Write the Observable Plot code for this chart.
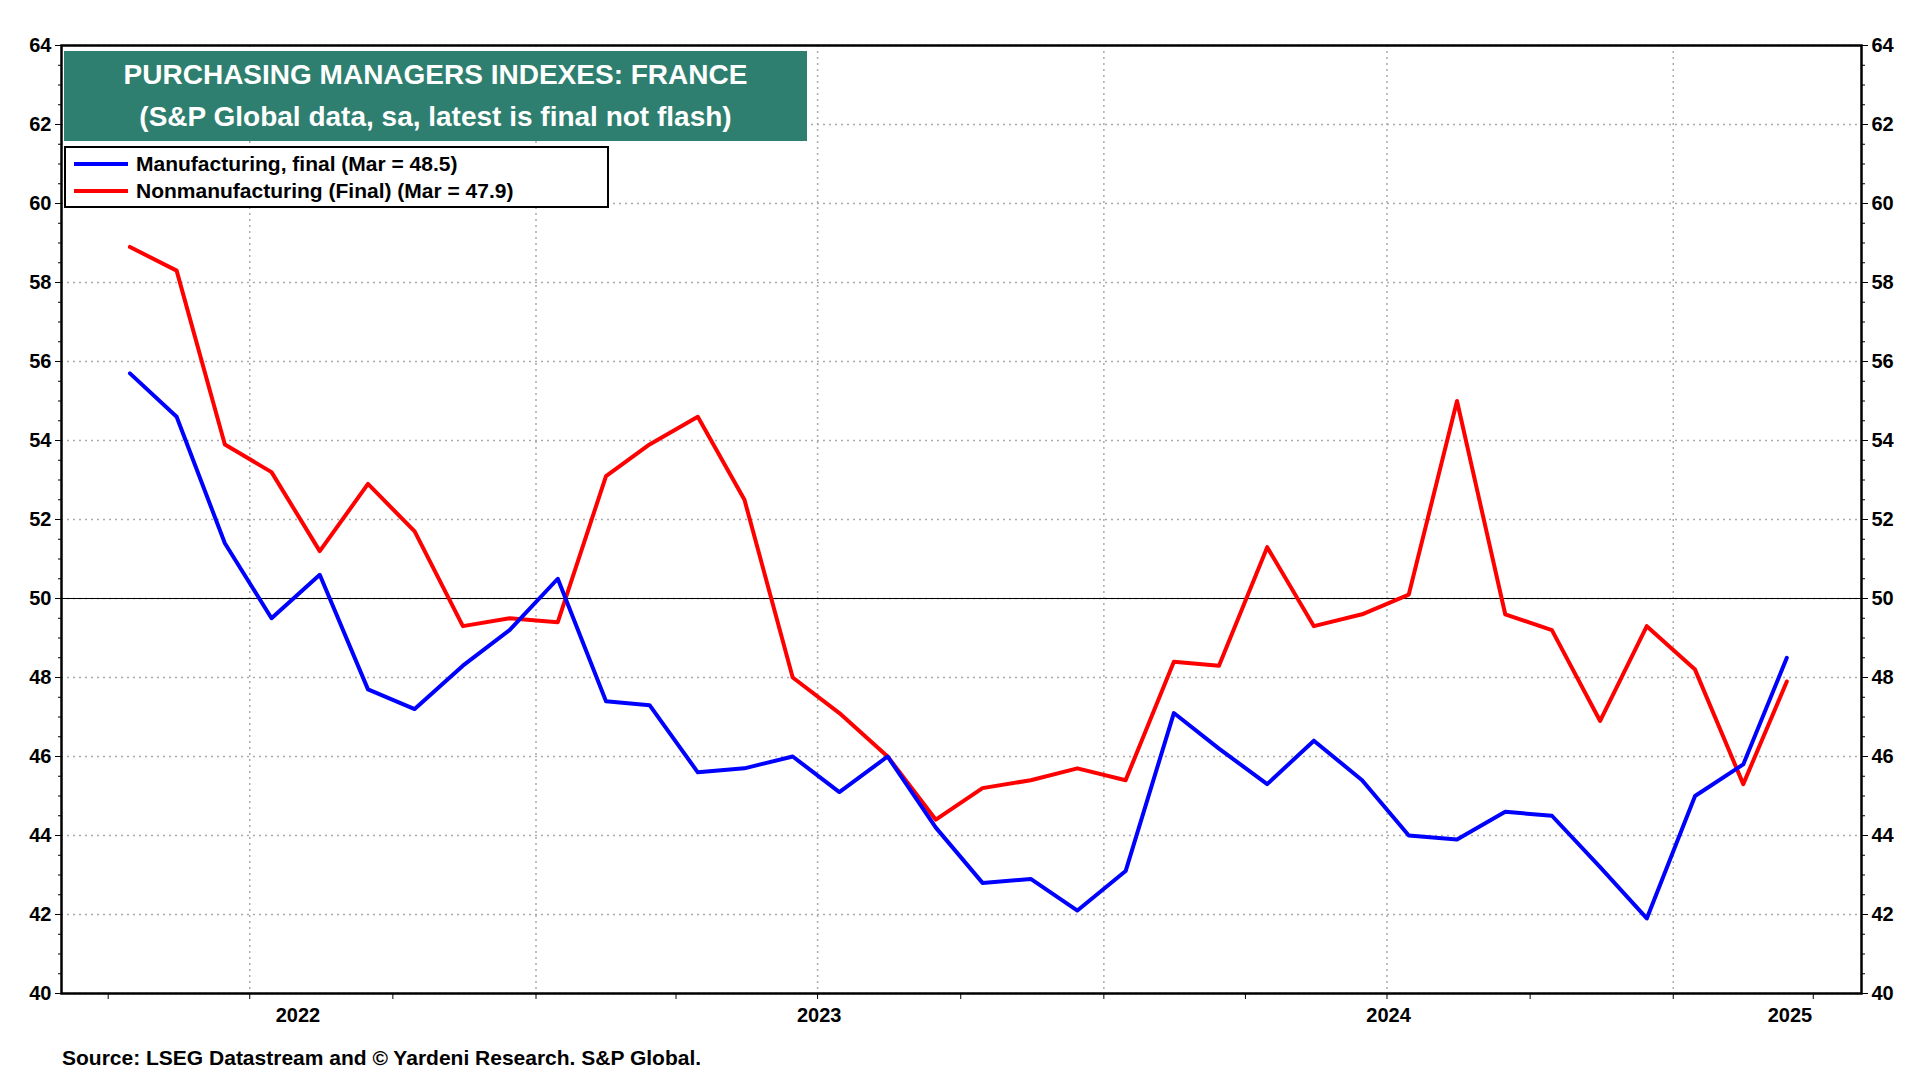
<!DOCTYPE html>
<html><head><meta charset="utf-8">
<script src="https://cdn.jsdelivr.net/npm/d3@7"></script>
<script src="https://cdn.jsdelivr.net/npm/@observablehq/plot@0.6"></script>
<style>
body{margin:0;background:#fff;font-family:Arial,"Liberation Sans",sans-serif;}
#wrap{position:relative;width:1920px;height:1080px;}
#title{position:absolute;left:64px;top:51px;width:743px;height:90px;background:#2e7f6f;color:#fff;font-weight:bold;font-size:28px;text-align:center;line-height:42px;padding-top:3px;box-sizing:border-box;}
#legend{position:absolute;left:64px;top:146px;width:545px;height:62px;border:2px solid #000;background:#fff;box-sizing:border-box;font-weight:bold;font-size:21px;padding:2px 8px;}
#legend div{display:flex;align-items:center;height:27px;}
#legend span.sw{display:inline-block;width:54px;height:4px;margin-right:8px;}
#source{position:absolute;left:62px;top:1046px;font-weight:bold;font-size:21px;}
</style></head><body>
<div id="wrap"><div id="chart"></div>
<div id="title">PURCHASING MANAGERS INDEXES: FRANCE<br>(S&amp;P Global data, sa, latest is final not flash)</div>
<div id="legend"><div><span class="sw" style="background:#0000ff"></span>Manufacturing, final (Mar = 48.5)</div><div><span class="sw" style="background:#ff0000"></span>Nonmanufacturing (Final) (Mar = 47.9)</div></div>
<div id="source">Source: LSEG Datastream and © Yardeni Research. S&amp;P Global.</div>
</div>
<script>
const startMonth = "2022-04";
const manufacturing = [55.7,54.6,51.4,49.5,50.6,47.7,47.2,48.3,49.2,50.5,47.4,47.3,45.6,45.7,46.0,45.1,46.0,44.2,42.8,42.9,42.1,43.1,47.1,46.2,45.3,46.4,45.4,44.0,43.9,44.6,44.5,43.2,41.9,45.0,45.8,48.5];
const nonmanufacturing = [58.9,58.3,53.9,53.2,51.2,52.9,51.7,49.3,49.5,49.4,53.1,53.9,54.6,52.5,48.0,47.1,46.0,44.4,45.2,45.4,45.7,45.4,48.4,48.3,51.3,49.3,49.6,50.1,55.0,49.6,49.2,46.9,49.3,48.2,45.3,47.9];
const yearLabels = ["2022","2023","2024","2025"];
const yearLabelDates = ["2022-08-01","2023-07-02","2024-07-02","2025-03-17"];
const yTicks = d3.range(40, 65, 2);

const d0 = new Date(startMonth + "-15T00:00:00Z");
const dates = manufacturing.map((_, i) => d3.utcMonth.offset(d0, i));
const mf = manufacturing.map((v, i) => ({date: dates[i], v}));
const nm = nonmanufacturing.map((v, i) => ({date: dates[i], v}));
const domain = [new Date("2022-03-02"), new Date("2025-05-02")];
const quarterTicks = d3.utcMonth.every(3).range(domain[0], domain[1]);
const halfTicks = d3.utcMonth.every(6).range(domain[0], domain[1]);
const minorY = d3.range(40, 64.01, 0.5);

const chart = Plot.plot({
  width: 1920, height: 1040,
  marginLeft: 61, marginRight: 59, marginTop: 45, marginBottom: 47,
  style: {fontFamily: "Arial, 'Liberation Sans', sans-serif", fontSize: "20px", fontWeight: "bold", color: "#000"},
  x: {type: "utc", domain},
  y: {domain: [40, 64]},
  marks: [
    Plot.gridX(halfTicks, {stroke: "#aaa", strokeOpacity: 1, strokeDasharray: "2,4", strokeWidth: 1.5}),
    Plot.gridY(yTicks, {stroke: "#aaa", strokeOpacity: 1, strokeDasharray: "2,4", strokeWidth: 1.5}),
    Plot.ruleY([50], {stroke: "#000", strokeWidth: 1.2}),
    Plot.axisY(yTicks, {anchor: "left", tickSize: 6, tickPadding: 4, label: null}),
    Plot.axisY(yTicks, {anchor: "right", tickSize: 6, tickPadding: 4, label: null}),
    Plot.axisY(minorY, {anchor: "left", tickSize: 3, text: null, label: null}),
    Plot.axisY(minorY, {anchor: "right", tickSize: 3, text: null, label: null}),
    Plot.axisX(quarterTicks, {anchor: "bottom", tickSize: 6, text: null, label: null}),
    Plot.axisX(yearLabelDates.map(d => new Date(d)), {anchor: "bottom", tickSize: 0, tickPadding: 14, label: null, tickFormat: (d, i) => yearLabels[i]}),
    Plot.line(nm, {x: "date", y: "v", stroke: "#ff0000", strokeWidth: 4}),
    Plot.line(mf, {x: "date", y: "v", stroke: "#0000ff", strokeWidth: 4}),
    Plot.frame({stroke: "#000", strokeWidth: 2.5})
  ]
});
document.getElementById("chart").append(chart);
</script>
</body></html>
